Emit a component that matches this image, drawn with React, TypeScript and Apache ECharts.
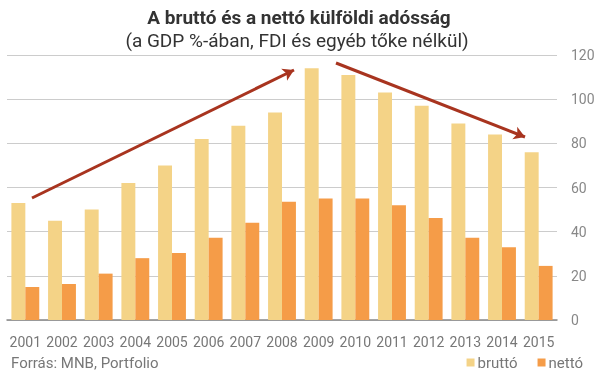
import React, { useEffect, useRef } from "react";
import * as echarts from "echarts";

const years = ["2001", "2002", "2003", "2004", "2005", "2006", "2007", "2008", "2009", "2010", "2011", "2012", "2013", "2014", "2015"];
const brutto = [53, 45, 50, 62, 70, 82, 88, 94, 114, 111, 103, 97, 89, 84, 76];
const netto = [15, 16.3, 21, 28, 30.3, 37.2, 44, 53.5, 55, 55, 52, 46.2, 37.2, 33, 24.5];
const yTicks = { min: 0, max: 120, interval: 20 };

const FONT = "Roboto, 'Noto Sans', sans-serif";

export default function App() {
  const ref = useRef<HTMLDivElement>(null);
  useEffect(() => {
    if (!ref.current) return;
    const chart = echarts.init(ref.current, null, { renderer: "svg" });
    const arrowColor = "#A8341F";
    chart.setOption({
      animation: false,
      textStyle: { fontFamily: FONT },
      grid: { left: 7, right: 47, top: 55, bottom: 52 },
      graphic: [
        {
          type: "text",
          x: 299,
          y: 17,
          style: {
            text: "A bruttó és a nettó külföldi adósság",
            font: "bold 19px " + FONT,
            fill: "#333",
            textAlign: "center",
            textVerticalAlign: "middle",
          },
        },
        {
          type: "text",
          x: 297,
          y: 40,
          style: {
            text: "(a GDP %-ában, FDI és egyéb tőke nélkül)",
            font: "19px " + FONT,
            fill: "#333",
            textAlign: "center",
            textVerticalAlign: "middle",
          },
        },
        {
          type: "text",
          x: 11,
          y: 363,
          style: {
            text: "Forrás: MNB, Portfolio",
            font: "15px " + FONT,
            fill: "#777",
            textAlign: "left",
            textVerticalAlign: "middle",
          },
        },
      ],
      legend: {
        right: 21,
        top: 355,
        padding: 0,
        icon: "rect",
        itemWidth: 8,
        itemHeight: 8,
        itemGap: 20,
        textStyle: { fontSize: 15, color: "#777", fontFamily: FONT, padding: [0, 0, 0, -2] },
        data: ["bruttó", "nettó"],
      },
      xAxis: {
        type: "category",
        data: years,
        axisLine: { lineStyle: { color: "#888", width: 1.5 } },
        axisTick: { show: false },
        axisLabel: { color: "#777", fontSize: 14, margin: 15, interval: 0 },
      },
      yAxis: {
        type: "value",
        position: "right",
        min: yTicks.min,
        max: yTicks.max,
        interval: yTicks.interval,
        axisLine: { show: false },
        axisTick: { show: false },
        axisLabel: { color: "#888", fontSize: 14, margin: 14 },
        splitLine: { lineStyle: { color: "#ccc", width: 1 } },
      },
      series: [
        {
          name: "bruttó",
          type: "bar",
          data: brutto,
          barGap: "0%",
          barCategoryGap: "24%",
          itemStyle: { color: "#F4D387" },
          markLine: {
            silent: true,
            symbol: ["none", "arrow"],
            symbolSize: [10, 11],
            label: { show: false },
            lineStyle: { color: arrowColor, width: 3, type: "solid" },
            data: [
              [{ x: 32, y: 198 }, { x: 294, y: 70 }],
              [{ x: 336, y: 63 }, { x: 525, y: 137 }],
            ],
          },
        },
        {
          name: "nettó",
          type: "bar",
          data: netto,
          barGap: "0%",
          barCategoryGap: "24%",
          itemStyle: { color: "#F59C48" },
        },
      ],
    });
    return () => chart.dispose();
  }, []);
  return <div ref={ref} style={{ position: "fixed", left: 0, top: 0, width: 604, height: 372 }} />;
}
